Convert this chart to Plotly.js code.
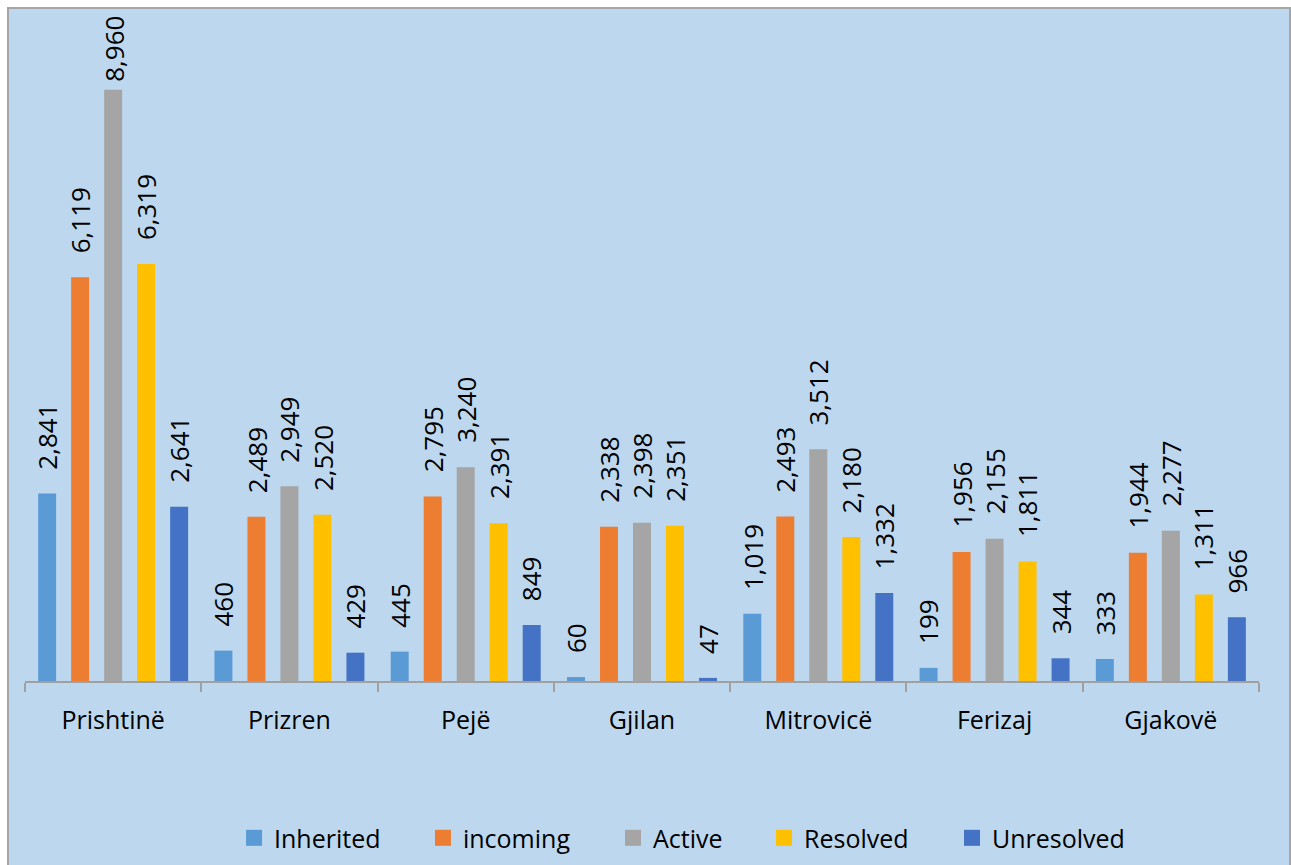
<!DOCTYPE html>
<html>
<head>
<meta charset="utf-8">
<script src="https://cdn.plot.ly/plotly-3.0.1.min.js"></script>
<style>
  html, body { margin: 0; padding: 0; background: #ffffff; overflow: hidden; }
  #frame { position: absolute; left: 7px; top: 7px; width: 1284px; height: 880px;
           box-sizing: border-box; border: 2px solid #a6a6a6; background: #bdd7ee; }
  #chart { width: 1280px; height: 876px; }
</style>
</head>
<body>
<div id="frame"><div id="chart"></div></div>
<script>
const categories = ["Prishtinë", "Prizren", "Pejë", "Gjilan", "Mitrovicë", "Ferizaj", "Gjakovë"];
const seriesNames = ["Inherited", "incoming", "Active", "Resolved", "Unresolved"];
const inherited  = [2841, 460, 445, 60, 1019, 199, 333];
const incoming   = [6119, 2489, 2795, 2338, 2493, 1956, 1944];
const active     = [8960, 2949, 3240, 2398, 3512, 2155, 2277];
const resolved   = [6319, 2520, 2391, 2351, 2180, 1811, 1311];
const unresolved = [2641, 429, 849, 47, 1332, 344, 966];
const seriesValues = [inherited, incoming, active, resolved, unresolved];
const colors = ["#5b9bd5", "#ed7d31", "#a5a5a5", "#ffc000", "#4472c4"];

const FONT = "Open Sans, Noto Sans, DejaVu Sans, sans-serif";
const Y_MAX = 10000;
const BARGAP = 0.064;
const BARGROUPGAP = 0.455;
const fmt = v => v.toLocaleString("en-US");

const legendIds = ["legend", "legend2", "legend3", "legend4", "legend5"];
const legendX = [0.1694, 0.3225, 0.4765, 0.5989, 0.7512];

const barTraces = seriesNames.map((name, i) => ({
  type: "bar",
  name: name,
  x: categories,
  y: seriesValues[i],
  marker: { color: colors[i] },
  showlegend: false
}));

const legendTraces = seriesNames.map((name, i) => ({
  type: "scatter",
  mode: "markers",
  name: name,
  x: [null],
  y: [null],
  marker: { color: colors[i], symbol: "square", size: 16 },
  legend: legendIds[i],
  showlegend: true,
  hoverinfo: "skip"
}));

// data labels: rotated, placed above each bar of the group (position in category units)
const nSeries = seriesValues.length;
const annotations = [];
seriesValues.forEach((vals, i) => {
  vals.forEach((v, j) => {
    annotations.push({
      xref: "x", yref: "y",
      x: j + (i - (nSeries - 1) / 2) * (1 - BARGAP) / nSeries,
      y: v,
      text: fmt(v),
      textangle: -90,
      showarrow: false,
      xanchor: "center",
      yanchor: "bottom",
      yshift: v > 0.85 * Y_MAX ? 6 : 22,
      font: { family: FONT, size: 26, color: "#000000" }
    });
  });
});

const layout = {
  width: 1280,
  height: 876,
  margin: { l: 16, r: 30, t: 12, b: 204 },
  paper_bgcolor: "#bdd7ee",
  plot_bgcolor: "#bdd7ee",
  barmode: "group",
  bargap: BARGAP,
  bargroupgap: BARGROUPGAP,
  showlegend: true,
  annotations: annotations,
  xaxis: {
    type: "category",
    categoryorder: "array",
    categoryarray: categories,
    range: [-0.5, categories.length - 0.5],
    showline: true,
    linecolor: "#a0a0a0",
    linewidth: 2,
    ticks: "outside",
    tickson: "boundaries",
    ticklen: 9,
    tickwidth: 2,
    tickcolor: "#a0a0a0",
    ticklabelstandoff: 16,
    tickfont: { family: FONT, size: 25, color: "#000000" },
    showgrid: false,
    zeroline: false,
    fixedrange: true
  },
  yaxis: {
    range: [0, Y_MAX],
    visible: false,
    showgrid: false,
    zeroline: false,
    fixedrange: true
  }
};

legendIds.forEach((id, i) => {
  layout[id] = {
    orientation: "h",
    x: legendX[i], xanchor: "left",
    y: -0.238, yanchor: "middle",
    itemsizing: "trace",
    font: { family: FONT, size: 25, color: "#000000" },
    bgcolor: "rgba(0,0,0,0)",
    borderwidth: 0
  };
});

Plotly.newPlot("chart", barTraces.concat(legendTraces), layout, { displayModeBar: false, staticPlot: true });
</script>
</body>
</html>
